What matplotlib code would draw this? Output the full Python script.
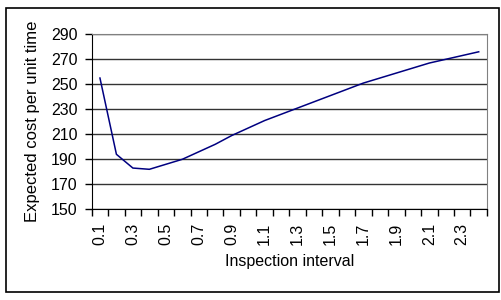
import numpy as np
import matplotlib
matplotlib.use("Agg")
import matplotlib.pyplot as plt
from matplotlib.patches import Rectangle

plt.rcParams['font.family'] = ['Liberation Sans', 'DejaVu Sans']

# inspection interval categories and expected cost values
intervals = ['0.1', '0.2', '0.3', '0.4', '0.5', '0.6', '0.7', '0.8', '0.9', '1.0',
             '1.1', '1.2', '1.3', '1.4', '1.5', '1.6', '1.7', '1.8', '1.9', '2.0',
             '2.1', '2.2', '2.3', '2.4']
cost = [255, 194, 183, 182, 186, 190, 196, 202, 209, 215,
        221, 226, 231, 236, 241, 246, 251, 255, 259, 263,
        267, 270, 273, 276]
y_ticks = [150, 170, 190, 210, 230, 250, 270, 290]

n = len(intervals)
fig = plt.figure(figsize=(5.02, 3.0), dpi=100)
ax = fig.add_axes([0.1827, 0.3023, 0.7873, 0.5834])

x = np.arange(n)
ax.plot(x, cost, color='#000080', lw=1.1)

ax.set_xlim(-0.5, n - 0.5)
ax.set_ylim(150, 290)
ax.set_yticks(y_ticks)
ax.yaxis.grid(True, color='#333333', lw=1)
ax.set_axisbelow(True)

# tick marks at category boundaries, labels on every other category
ax.set_xticks(np.arange(n + 1) - 0.5)
ax.set_xticklabels([])
ax.set_xticks(x[::2], minor=True)
ax.set_xticklabels(intervals[::2], minor=True, rotation=90)
ax.tick_params(axis='x', which='major', length=5, width=1, color='black')
ax.tick_params(axis='x', which='minor', length=0, labelsize=11.5, pad=10)
ax.tick_params(axis='y', length=5, width=1, labelsize=11.5, pad=5)

for s in ['top', 'right']:
    ax.spines[s].set_color('#808080')
for s in ['left', 'bottom']:
    ax.spines[s].set_color('black')

ax.set_xlabel('Inspection interval', fontsize=11.5, labelpad=6)
ax.set_ylabel('Expected cost per unit time', fontsize=12, labelpad=8)

fig.patches.append(Rectangle((6 / 502, 8 / 300), 493 / 502, 284 / 300,
                             transform=fig.transFigure, fill=False,
                             edgecolor='black', lw=1.2))

fig.savefig('out.png', dpi=100)
